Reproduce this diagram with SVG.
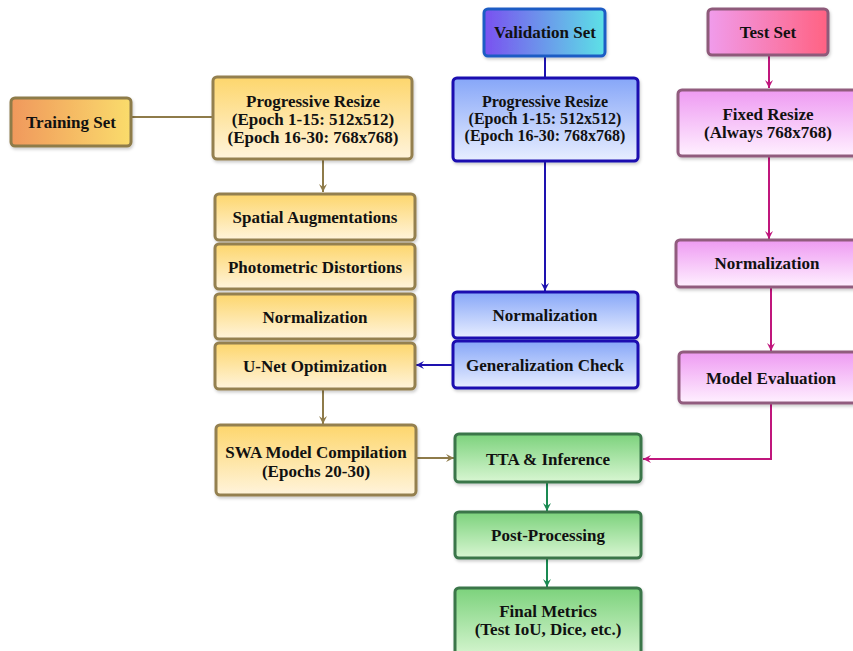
<svg xmlns="http://www.w3.org/2000/svg" width="853" height="651" viewBox="0 0 853 651">
<defs>
<linearGradient id="gTrainSet" x1="0" y1="0" x2="1" y2="0"><stop offset="0" stop-color="#F0985C"/><stop offset="1" stop-color="#FADC6C"/></linearGradient>
<linearGradient id="gValSet" x1="0" y1="0" x2="1" y2="0"><stop offset="0" stop-color="#7A50F0"/><stop offset="1" stop-color="#5CE2E6"/></linearGradient>
<linearGradient id="gTestSet" x1="0" y1="0" x2="1" y2="0"><stop offset="0" stop-color="#F09CEC"/><stop offset="1" stop-color="#FF6282"/></linearGradient>
<linearGradient id="gY" x1="0" y1="0" x2="0" y2="1"><stop offset="0" stop-color="#FDD66C"/><stop offset="1" stop-color="#FFF4DC"/></linearGradient>
<linearGradient id="gB" x1="0" y1="0" x2="0" y2="1"><stop offset="0" stop-color="#86A6F8"/><stop offset="1" stop-color="#E8EEFF"/></linearGradient>
<linearGradient id="gP" x1="0" y1="0" x2="0" y2="1"><stop offset="0" stop-color="#EE9AF2"/><stop offset="1" stop-color="#FFF0FF"/></linearGradient>
<linearGradient id="gG" x1="0" y1="0" x2="0" y2="1"><stop offset="0" stop-color="#7CD27C"/><stop offset="1" stop-color="#D8F6D2"/></linearGradient>
<marker id="aY" markerWidth="10" markerHeight="10" refX="9" refY="5" orient="auto" markerUnits="userSpaceOnUse"><path d="M1,1 L9,5 L1,9 L4,5 Z" fill="#8E7B4A"/></marker>
<marker id="aB" markerWidth="10" markerHeight="10" refX="9" refY="5" orient="auto" markerUnits="userSpaceOnUse"><path d="M1,1 L9,5 L1,9 L4,5 Z" fill="#1E12B0"/></marker>
<marker id="aP" markerWidth="10" markerHeight="10" refX="9" refY="5" orient="auto" markerUnits="userSpaceOnUse"><path d="M1,1 L9,5 L1,9 L4,5 Z" fill="#C0167C"/></marker>
<marker id="aG" markerWidth="10" markerHeight="10" refX="9" refY="5" orient="auto" markerUnits="userSpaceOnUse"><path d="M1,1 L9,5 L1,9 L4,5 Z" fill="#1A8A52"/></marker>
<filter id="sh" x="-10%" y="-10%" width="130%" height="140%"><feDropShadow dx="1" dy="2" stdDeviation="1.5" flood-color="#000" flood-opacity="0.2"/></filter>
</defs>
<style>
text{font-family:"Liberation Serif","Times New Roman",serif;font-weight:bold;font-size:17px;fill:#111;text-anchor:middle}
.sm{font-size:16px}
rect{stroke-width:3;filter:url(#sh)}
.y{fill:url(#gY);stroke:#948050}
.b{fill:url(#gB);stroke:#1A0EB0}
.p{fill:url(#gP);stroke:#915C7E}
.g{fill:url(#gG);stroke:#3A764A}
.cy{stroke:#8E7B4A;stroke-width:2;fill:none}
.cb{stroke:#1E12B0;stroke-width:2;fill:none}
.cp{stroke:#C0167C;stroke-width:2;fill:none}
.cg{stroke:#1A8A52;stroke-width:2;fill:none}
</style>
<rect width="853" height="651" fill="#fff" style="filter:none;stroke:none"/>
<g id="connectors">
<path class="cy" d="M132,117 H213"/>
<path class="cy" d="M323,159 V192" marker-end="url(#aY)"/>
<path class="cy" d="M323,389 V424" marker-end="url(#aY)"/>
<path class="cy" d="M416,458 H454" marker-end="url(#aY)"/>
<path class="cb" d="M545,56 V77"/>
<path class="cb" d="M545,161 V291" marker-end="url(#aB)"/>
<path class="cb" d="M452,365 H416" marker-end="url(#aB)"/>
<path class="cp" d="M769,55 V88" marker-end="url(#aP)"/>
<path class="cp" d="M769,156 V239" marker-end="url(#aP)"/>
<path class="cp" d="M771,287 V351" marker-end="url(#aP)"/>
<path class="cp" d="M771,403 V459 H643" marker-end="url(#aP)"/>
<path class="cg" d="M547,482 V511" marker-end="url(#aG)"/>
<path class="cg" d="M547,558 V587" marker-end="url(#aG)"/>
</g>
<g id="training-set"><rect x="11" y="98" width="120" height="48" rx="4" fill="url(#gTrainSet)" stroke="#8E7B4A"/><text x="71" y="128">Training Set</text></g>
<g id="train-resize"><rect x="213" y="77" width="199" height="82" rx="4" class="y"/><text x="313" y="107">Progressive Resize</text><text x="313" y="125">(Epoch 1-15: 512x512)</text><text x="313" y="143">(Epoch 16-30: 768x768)</text></g>
<g id="spatial"><rect x="215" y="194" width="200" height="46" rx="4" class="y"/><text x="315" y="223">Spatial Augmentations</text></g>
<g id="photometric"><rect x="215" y="244" width="200" height="45" rx="4" class="y"/><text x="315" y="273">Photometric Distortions</text></g>
<g id="train-norm"><rect x="215" y="294" width="200" height="45" rx="4" class="y"/><text x="315" y="323">Normalization</text></g>
<g id="unet"><rect x="215" y="343" width="200" height="46" rx="4" class="y"/><text x="315" y="372">U-Net Optimization</text></g>
<g id="swa"><rect x="216" y="425" width="200" height="70" rx="4" class="y"/><text x="316" y="458">SWA Model Compilation</text><text x="316" y="477">(Epochs 20-30)</text></g>
<g id="validation-set"><rect x="484" y="9" width="121" height="47" rx="4" fill="url(#gValSet)" stroke="#1E5CC4"/><text x="545" y="38">Validation Set</text></g>
<g id="val-resize"><rect x="453" y="78" width="185" height="83" rx="4" class="b"/><text class="sm" x="545" y="107">Progressive Resize</text><text class="sm" x="545" y="124">(Epoch 1-15: 512x512)</text><text class="sm" x="545" y="141">(Epoch 16-30: 768x768)</text></g>
<g id="val-norm"><rect x="453" y="292" width="185" height="46" rx="4" class="b"/><text x="545" y="321">Normalization</text></g>
<g id="gen-check"><rect x="453" y="341" width="185" height="47" rx="4" class="b"/><text x="545" y="371">Generalization Check</text></g>
<g id="test-set"><rect x="708" y="9" width="120" height="46" rx="4" fill="url(#gTestSet)" stroke="#8E5A7A"/><text x="768" y="38">Test Set</text></g>
<g id="fixed-resize"><rect x="678" y="90" width="184" height="66" rx="4" class="p"/><text x="768" y="120">Fixed Resize</text><text x="768" y="138">(Always 768x768)</text></g>
<g id="test-norm"><rect x="676" y="240" width="186" height="47" rx="4" class="p"/><text x="767" y="269">Normalization</text></g>
<g id="model-eval"><rect x="679" y="352" width="184" height="51" rx="4" class="p"/><text x="771" y="384">Model Evaluation</text></g>
<g id="tta"><rect x="455" y="434" width="186" height="48" rx="4" class="g"/><text x="548" y="465">TTA &amp; Inference</text></g>
<g id="post"><rect x="455" y="512" width="186" height="46" rx="4" class="g"/><text x="548" y="541">Post-Processing</text></g>
<g id="final"><rect x="455" y="588" width="186" height="70" rx="4" class="g"/><text x="548" y="617">Final Metrics</text><text x="548" y="635">(Test IoU, Dice, etc.)</text></g>
</svg>
